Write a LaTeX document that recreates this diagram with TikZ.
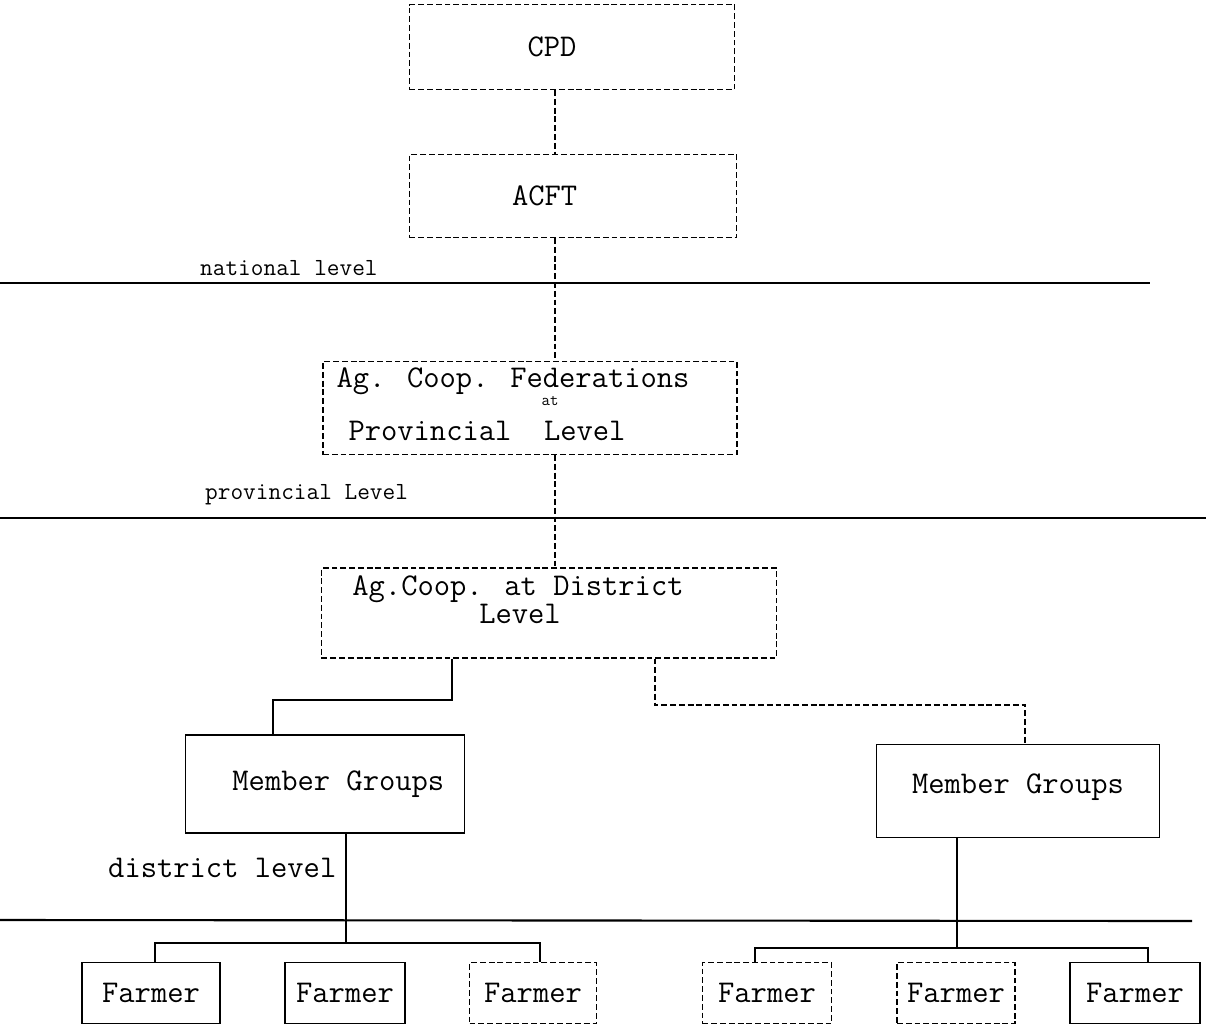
\documentclass[tikz,border=0pt]{standalone}
\usepackage{fontspec}
\usepackage{tikz}
\usetikzlibrary{positioning,calc}

\begin{document}
\begin{tikzpicture}[
    x=0.03cm, y=-0.03cm,
    every node/.style={font=\ttfamily\fontsize{27}{30}\selectfont},
    solidbox/.style={rectangle, draw=black, line width=1.1pt, inner sep=0pt},
    faintbox/.style={rectangle, draw=black, line width=1pt, dash pattern=on 5pt off 2.5pt, inner sep=0pt},
    boxtext/.style={inner sep=0pt, anchor=center},
    smalltext/.style={inner sep=0pt, font=\ttfamily\fontsize{14}{14}\selectfont},
    levellabel/.style={inner sep=0pt, anchor=west, font=\ttfamily\fontsize{21}{22}\selectfont},
    levelline/.style={line width=1.5pt},
    link/.style={line width=1.1pt},
    faintlink/.style={line width=1pt, dash pattern=on 5pt off 2.5pt}
]
\useasboundingbox (0,0) rectangle (1206,1027);

% National level
\node[faintbox, minimum width=9.75cm, minimum height=2.55cm] (cpd) at (572,47) {\hspace*{-1.2cm}CPD};
\node[faintbox, minimum width=9.81cm, minimum height=2.49cm] (acft) at (573,196) {\hspace*{-1.7cm}ACFT};
\coordinate (spine) at (555,0);

% Provincial level
\node[faintbox, minimum width=12.42cm, minimum height=2.79cm] (fed) at (530,408) {};
\node[boxtext] (fedA) at (513,381) {Ag. Coop. Federations};
\node[smalltext] (fedAt) at (550,401) {at};
\node[boxtext] (fedB) at (487,431) {Provincial\ \ Level};

% District level
\node[faintbox, minimum width=13.65cm, minimum height=2.7cm] (dist) at (549,613) {};
\node[boxtext] (distA) at (518,589) {Ag.Coop. at District};
\node[boxtext] (distB) at (520,614) {Level};
\node[solidbox, minimum width=8.37cm, minimum height=2.94cm] (mgL) at (325,784) {\hspace*{0.8cm}Member Groups};
\node[solidbox, minimum width=8.49cm, minimum height=2.79cm] (mgR) at (1018,791) {\raisebox{12pt}{Member Groups}};

% Farmers
\node[solidbox, minimum width=4.14cm, minimum height=1.83cm] (f1) at (151,993) {Farmer};
\node[solidbox, minimum width=3.6cm, minimum height=1.83cm] (f2) at (345,993) {Farmer};
\node[faintbox, minimum width=3.81cm, minimum height=1.83cm] (f3) at (533,993) {Farmer};
\node[faintbox, minimum width=3.87cm, minimum height=1.83cm] (f4) at (767,993) {Farmer};
\node[faintbox, minimum width=3.54cm, minimum height=1.83cm] (f5) at (956,993) {Farmer};
\node[solidbox, minimum width=3.9cm, minimum height=1.83cm] (f6) at (1135,993) {Farmer};

% Level lines and labels
\coordinate (natW) at (0,283);
\coordinate (natE) at (1150,283);
\coordinate (provW) at (0,518);
\coordinate (provE) at (1206,518);
\coordinate (distW) at (0,920);
\coordinate (distE) at (1192,921);
\draw[levelline] (natW) -- (natE);
\draw[levelline] (provW) -- (provE);
\draw[levelline, line width=1.8pt] (distW) -- (distE);
\node[levellabel] (natlabel) at (200,268) {national level};
\node[levellabel] (provlabel) at (205,495) {provincial Level};
\node[levellabel, font=\ttfamily\fontsize{27}{30}\selectfont] (distlabel) at (108,868) {district level};

% Connections
\draw[faintlink] (cpd.south -| spine) -- (acft.north -| spine);
\draw[faintlink] (acft.south -| spine) -- (fed.north -| spine);
\draw[faintlink] (fed.south -| spine) -- (dist.north -| spine);

\coordinate (jL) at (452,700);
\coordinate (kL) at (273,700);
\draw[link] (dist.south -| jL) -- (jL) -- (kL) -- (mgL.north -| kL);
\coordinate (jR) at (655,705);
\coordinate (kR) at (1025,705);
\draw[faintlink] (dist.south -| jR) -- (jR) -- (kR) -- (mgR.north -| kR);

\coordinate (bL) at (346,943);
\coordinate (bL1) at (155,943);
\coordinate (bL3) at (540,943);
\draw[link] (mgL.south -| bL) -- (bL);
\draw[link] (f1.north -| bL1) -- (bL1) -- (bL3) -- (f3.north -| bL3);

\coordinate (bR) at (957,948);
\coordinate (bR4) at (755,948);
\coordinate (bR6) at (1148,948);
\draw[link] (mgR.south -| bR) -- (bR);
\draw[link] (f4.north -| bR4) -- (bR4) -- (bR6) -- (f6.north -| bR6);

\end{tikzpicture}
\end{document}
